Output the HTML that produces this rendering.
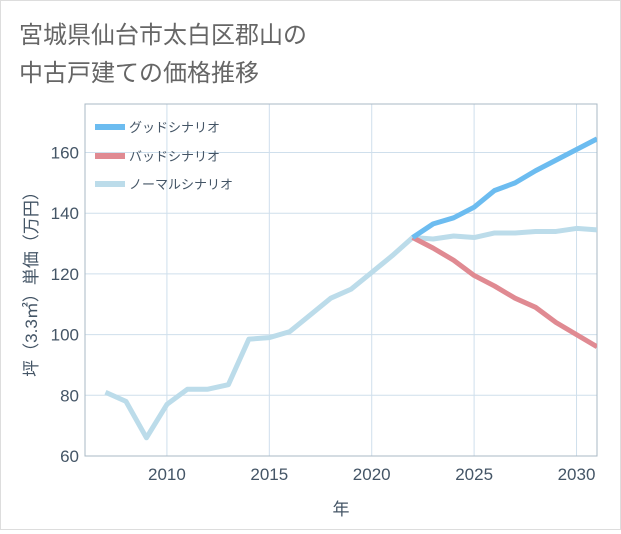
<!DOCTYPE html>
<html><head><meta charset="utf-8"><style>
body{margin:0;background:#fff;font-family:"Liberation Sans","Noto Sans CJK JP",sans-serif;}
#wrap{position:relative;width:619px;height:528px;border:1px solid #ddd;background:#fff;}
</style></head><body>
<div id="wrap">
<svg id="chart" width="619" height="528"></svg>
</div>
<script>
const years=[2007,2008,2009,2010,2011,2012,2013,2014,2015,2016,2017,2018,2019,2020,2021,2022,2023,2024,2025,2026,2027,2028,2029,2030,2031];
const normal=[81,78,66,77,82,82,83.5,98.5,99,101,106.5,112,115,120.5,126,132,131.5,132.5,132,133.5,133.5,134,134,135,134.5];
const goodYears=[2022,2023,2024,2025,2026,2027,2028,2029,2030,2031];
const good=[132,136.5,138.5,142,147.5,150,154,157.5,161,164.5];
const bad=[132,128.5,124.5,119.5,116,112,109,104,100,96];
const xTicks=[2010,2015,2020,2025,2030];
const yTicks=[60,80,100,120,140,160];
const NS='http://www.w3.org/2000/svg';
const svg=document.getElementById('chart');
const L=84,R=596,T=103,B=455;
const x=v=>L+(v-2006)*(R-L)/(2031-2006);
const y=v=>B-(v-60)*(B-T)/(176-60);
function el(t,a,p){const e=document.createElementNS(NS,t);for(const k in a)e.setAttribute(k,a[k]);(p||svg).appendChild(e);return e;}
function txt(s,a){const e=el('text',a);e.textContent=s;return e;}
let t1=txt('宮城県仙台市太白区郡山の',{x:18,y:42,'font-size':24,fill:'#666'});

let t2=txt('中古戸建ての価格推移',{x:18,y:80,'font-size':24,fill:'#666'});

xTicks.forEach(v=>{const g=el('line',{x1:x(v),x2:x(v),y1:T,y2:B,stroke:'#cfdfec'});
const t=txt(v,{x:x(v),y:B+24,'font-size':17,fill:'#445566','text-anchor':'middle'});});
yTicks.forEach(v=>{const g=el('line',{x1:L,x2:R,y1:y(v),y2:y(v),stroke:'#cfdfec'});
const t=txt(v,{x:L-6,y:y(v)+6,'font-size':17,fill:'#445566','text-anchor':'end'});});
const fr=el('rect',{x:L,y:T,width:R-L,height:B-T,fill:'none',stroke:'#aab8c4'});
const xt=txt('年',{x:(L+R)/2,y:514,'font-size':17,fill:'#445566','text-anchor':'middle'});
const yt=txt('坪（3.3㎡）単価（万円）',{x:0,y:0,'font-size':17,fill:'#445566','text-anchor':'middle',transform:`translate(36,${(T+B)/2}) rotate(-90)`});
const clip=el('clipPath',{id:'c'});el('rect',{x:L,y:T,width:R-L,height:B-T},clip);
function line(xs,vs,c,name){const d=xs.map((v,i)=>(i?'L':'M')+x(v)+','+y(vs[i])).join('');const p=el('path',{d,fill:'none',stroke:c,'stroke-width':5,'stroke-linejoin':'round','clip-path':'url(#c)'});}
line(years,normal,'#bcdcea','normal-scenario-line');
line(goodYears,bad,'#e08a92','bad-scenario-line');
line(goodYears,good,'#6cbcf0','good-scenario-line');
[['グッドシナリオ','#6cbcf0',126,'legend-good'],['バッドシナリオ','#e08a92',155,'legend-bad'],['ノーマルシナリオ','#bcdcea',183,'legend-normal']].forEach(([s,c,yy,n])=>{
const g=el('g',{});
el('rect',{x:94,y:yy-3,width:30,height:6,fill:c},g);
const t=el('text',{x:128,y:yy+5,'font-size':13,fill:'#445566'},g);t.textContent=s;});
</script>
</body></html>
